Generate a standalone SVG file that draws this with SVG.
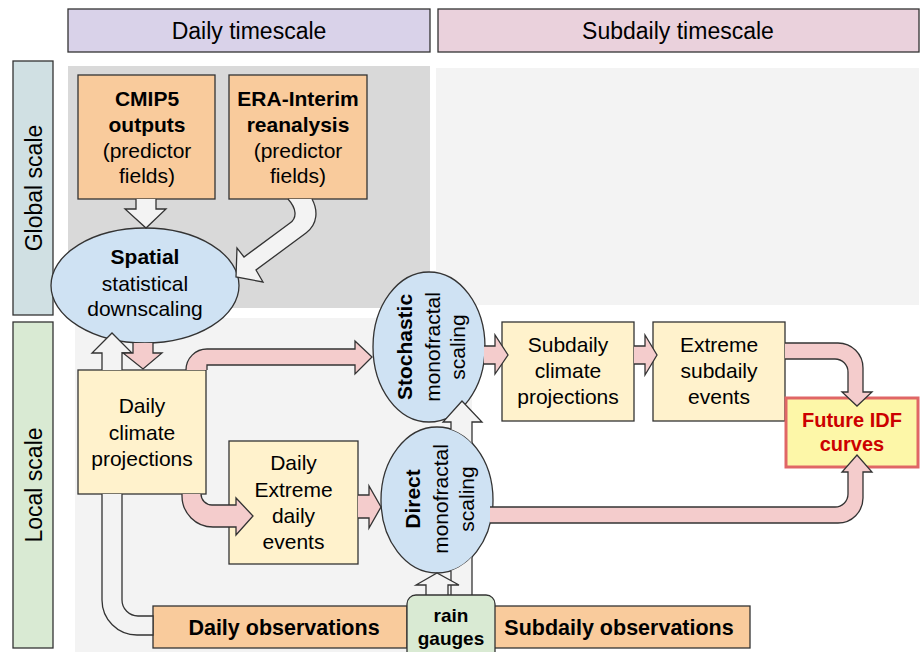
<svg xmlns="http://www.w3.org/2000/svg" width="920" height="652" viewBox="0 0 920 652">
<style>
text{font-family:"Liberation Sans",Arial,sans-serif;fill:#000;text-anchor:middle}
.hd{font-size:23px}
.t{font-size:21px}
.b{font-weight:bold}
.box{stroke:#333;stroke-width:1.3}
.or{fill:#f9cb9c}
.ye{fill:#fff2cc}
.el{fill:#cfe2f3;stroke:#333;stroke-width:1.3}
.pk{fill:#f4cccc;stroke:#333;stroke-width:1.3;stroke-linejoin:miter}
.wh{fill:#f3f3f3;stroke:#333;stroke-width:1.3}
</style>
<defs>
<clipPath id="noDirect"><path clip-rule="evenodd" d="M0,0H920V652H0Z M381,500 a56,73 0 1,0 112,0 a56,73 0 1,0 -112,0Z"/></clipPath>
</defs>
<rect width="920" height="652" fill="#fff"/>
<g id="backgrounds">
<rect x="68" y="66" width="362" height="242" fill="#d9d9d9"/>
<rect x="436" y="68" width="483" height="237" fill="#f3f3f3"/>
<rect x="75" y="318" width="397" height="334" fill="#f3f3f3"/>
</g>
<g id="hdr-daily"><rect class="box" x="68" y="9" width="362" height="43" fill="#d9d2e9"/><text class="hd" x="249" y="39">Daily timescale</text></g>
<g id="hdr-subdaily"><rect class="box" x="438" y="9" width="481" height="43" fill="#ead1dc"/><text class="hd" x="678" y="39">Subdaily timescale</text></g>
<g id="lbl-global"><rect class="box" x="13" y="61" width="40" height="254" fill="#d0e0e3"/><text class="hd" transform="translate(42,188) rotate(-90)">Global scale</text></g>
<g id="lbl-local"><rect class="box" x="13" y="322" width="40" height="326" fill="#d9ead3"/><text class="hd" transform="translate(42,485) rotate(-90)">Local scale</text></g>
<g id="cmip5"><rect class="box or" x="78" y="75" width="137" height="124"/>
<text class="t b" x="147" y="106">CMIP5</text><text class="t b" x="147" y="132">outputs</text><text class="t" x="147" y="158">(predictor</text><text class="t" x="147" y="183">fields)</text></g>
<g id="era"><rect class="box or" x="229" y="75" width="138" height="124"/>
<text class="t b" x="298" y="106">ERA-Interim</text><text class="t b" x="298" y="132">reanalysis</text><text class="t" x="298" y="158">(predictor</text><text class="t" x="298" y="183">fields)</text></g>
<g id="spatial"><ellipse class="el" cx="145" cy="285.5" rx="94" ry="57.5"/>
<text class="t b" x="145" y="264">Spatial</text><text class="t" x="145" y="291">statistical</text><text class="t" x="145" y="316">downscaling</text></g>
<g id="daily-proj"><rect class="box ye" x="78" y="370" width="128" height="124"/>
<text class="t" x="142" y="413">Daily</text><text class="t" x="142" y="440">climate</text><text class="t" x="142" y="466">projections</text></g>
<g id="daily-extreme"><rect class="box ye" x="229" y="441" width="129" height="123"/>
<text class="t" x="293.5" y="470">Daily</text><text class="t" x="293.5" y="497">Extreme</text><text class="t" x="293.5" y="523">daily</text><text class="t" x="293.5" y="549">events</text></g>
<g id="stochastic"><ellipse class="el" cx="429" cy="347" rx="56" ry="75"/>
<text class="t b" transform="translate(412,347) rotate(-90)">Stochastic</text>
<text class="t" transform="translate(440,347) rotate(-90)">monofractal</text>
<text class="t" transform="translate(465,347) rotate(-90)">scaling</text></g>
<g id="direct"><ellipse class="el" cx="437" cy="500" rx="56" ry="73"/>
<text class="t b" transform="translate(420,499) rotate(-90)">Direct</text>
<text class="t" transform="translate(448,499) rotate(-90)">monofractal</text>
<text class="t" transform="translate(474,499) rotate(-90)">scaling</text></g>
<g id="subdaily-proj"><rect class="box ye" x="502" y="322" width="132" height="99"/>
<text class="t" x="568" y="352">Subdaily</text><text class="t" x="568" y="378">climate</text><text class="t" x="568" y="404">projections</text></g>
<g id="extreme-subdaily"><rect class="box ye" x="653" y="322" width="132" height="99"/>
<text class="t" x="719" y="352">Extreme</text><text class="t" x="719" y="378">subdaily</text><text class="t" x="719" y="404">events</text></g>
<g id="future-idf"><rect x="786" y="398" width="132" height="69" fill="#fdf7a8" stroke="#e06666" stroke-width="3"/>
<text class="b" x="852" y="427" style="font-size:20px;fill:#cc0000">Future IDF</text><text class="b" x="852" y="451" style="font-size:20px;fill:#cc0000">curves</text></g>
<g id="daily-obs"><rect class="box or" x="153" y="606" width="254" height="42"/><text class="t b" x="284" y="635" style="font-size:21.5px">Daily observations</text></g>
<g id="subdaily-obs"><rect class="box or" x="494" y="606" width="256" height="42"/><text class="t b" x="619" y="635" style="font-size:21.5px">Subdaily observations</text></g>
<g id="connectors">
<path class="wh" d="M136,199 V209 H125 L146,228 L166,209 H156 V199"/>
<path class="wh" d="M288,199 C297,209 297,218 290,223 L244,257 L237,248 L236,277 L263,282 L256,270 L306,233 C318,224 318,210 312,199"/>
<path class="wh" d="M102,370 V353 H92 L112,333 L132,353 H122 V370"/>
<path class="wh" d="M102,494 V600 A35,35 0 0 0 137,635 H153 V616 H138 A16,16 0 0 1 122,600 V494"/>
<path class="pk" d="M133,343 V353 H123 L143,369 L162,353 H153 V343"/>
<path class="pk" d="M186,370 A21,21 0 0 1 207,349 H355 V341 L372,357 L355,374 V365 H207 V370"/>
<path class="pk" d="M182,494 V496 A31,31 0 0 0 213,527 H236 V535 L253,516 L236,498 V505 H212 A11,11 0 0 1 201,494"/>
<path class="pk" d="M358,495 H369 V486 L381,507 L369,528 V518 H358"/>
<path class="pk" d="M484,346 H495 V335 L508,355 L495,374 V364 H484"/>
<path class="pk" d="M634,346 H645 V335 L657,355 L645,375 V364 H634"/>
<path class="pk" d="M785,343 H838 A25,25 0 0 1 863,368 V392 H872 L857,406 L842,392 H848 V372 A13,13 0 0 0 835,359 H785"/>
<path class="pk" d="M490,507 H835 A13,13 0 0 0 848,494 V472 H842 L857,455 L872,472 H863 V498 A25,25 0 0 1 838,523 H490"/>
<path class="wh" clip-path="url(#noDirect)" d="M451,595 V422 H443 L462,401 L482,422 H472 V595"/>
<path class="wh" d="M426,595 V585 H416 L437,573 L459,585 H448 V595"/>
</g>
<g id="rain-gauges"><rect class="box" x="407" y="595" width="88" height="70" rx="9" fill="#d9ead3"/>
<text class="b" x="451" y="622" style="font-size:19px">rain</text><text class="b" x="451" y="645" style="font-size:19px">gauges</text></g>
</svg>
